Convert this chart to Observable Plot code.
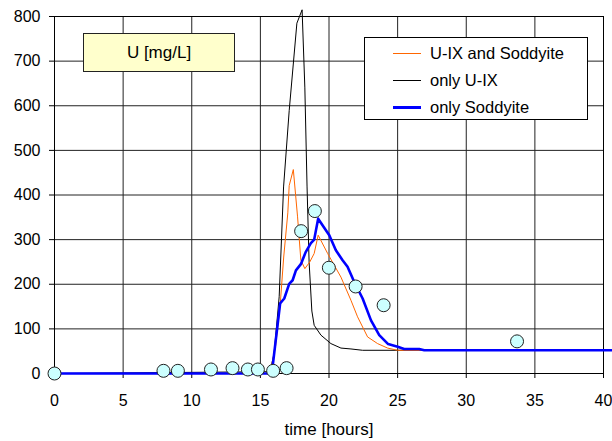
<!DOCTYPE html>
<html>
<head>
<meta charset="utf-8">
<script src="https://cdn.jsdelivr.net/npm/d3@7"></script>
<script src="https://cdn.jsdelivr.net/npm/@observablehq/plot@0.6"></script>
<style>
  body { margin: 0; background: #fff; }
  #wrap { position: relative; width: 612px; height: 441px; font-family: "Liberation Sans", Arial, sans-serif; }
  .titlebox { position: absolute; left: 83px; top: 33px; width: 150px; height: 37px; background: #ffffcc; border: 1px solid #222; font-size: 17px; display: flex; align-items: center; justify-content: center; box-sizing: content-box; }
  .legend { position: absolute; left: 364px; top: 37px; width: 222px; height: 81px; background: #fff; border: 1px solid #000; font-size: 16.5px; }
  .legend .row { position: absolute; left: 0; height: 20px; display: flex; align-items: center; }
  .legend .sw { position: absolute; left: 28px; width: 28px; height: 0; }
  .legend .lbl { position: absolute; left: 65px; white-space: nowrap; }
</style>
</head>
<body>
<div id="wrap"></div>
<script>
// Tick values
const xTicks = [0, 5, 10, 15, 20, 25, 30, 35, 40];
const yTicks = [0, 100, 200, 300, 400, 500, 600, 700, 800];

// Observed data (circles)
const obsTime = [0, 7.94, 8.99, 11.4, 12.97, 14.09, 14.82, 15.93, 16.91, 17.97, 18.97, 19.99, 21.94, 23.98, 33.7];
const obsU    = [0, 6, 6, 9, 12, 9, 9, 6, 12, 319, 364, 237, 195, 153, 72];

// U-IX and Soddyite (orange)
const bothTime = [0, 15.7, 16.1, 16.45, 16.7, 17.0, 17.1, 17.4, 17.71, 17.95, 18.24, 18.6, 18.92, 19.21, 19.9, 20.87, 21.6, 22.08, 22.81, 23.54, 24.27, 25.0, 40];
const bothU    = [0, 0, 60, 157, 261, 360, 421, 457, 351, 254, 235, 250, 269, 310, 269, 216, 164, 127, 82, 67, 57, 52, 52];

// only U-IX (black)
const uixTime = [0, 15.7, 16.0, 16.37, 16.69, 17.1, 17.66, 18.04, 18.24, 18.4, 18.55, 18.75, 18.92, 19.41, 20.14, 20.87, 21.6, 22.45, 40];
const uixU    = [0, 4, 45, 172, 418, 589, 785, 815, 640, 420, 250, 140, 108, 86, 67, 57, 55, 52, 52];

// only Soddyite (blue)
const sodTime = [0, 15.6, 15.89, 16.44, 16.74, 17.1, 17.35, 17.59, 17.95, 18.3, 18.68, 18.92, 19.21, 20.02, 20.5, 20.99, 21.35, 21.84, 22.45, 23.06, 23.66, 24.31, 25.0, 25.48, 26.57, 26.94, 40.7];
const sodU    = [0, 0, 15, 157, 168, 201, 209, 231, 245, 272, 292, 300, 347, 310, 276, 254, 239, 205, 168, 119, 86, 66, 60, 55, 55, 52, 52];

const seriesNames = ["U-IX and Soddyite", "only U-IX", "only Soddyite"];
const seriesColors = ["#ff6600", "#000000", "#0000ff"];
const seriesWidths = [1, 1, 2.6];
const swatchWidths = [1, 1, 3];

const toRows = (t, v) => t.map((d, i) => ({t: d, v: v[i]}));
const obs = toRows(obsTime, obsU);
const both = toRows(bothTime, bothU);
const uix = toRows(uixTime, uixU);
const sod = toRows(sodTime, sodU);

const chart = Plot.plot({
  width: 612,
  height: 441,
  marginLeft: 54,
  marginRight: 9,
  marginTop: 16,
  marginBottom: 68,
  x: {domain: [0, 40]},
  y: {domain: [0, 800]},
  style: {fontFamily: "'Liberation Sans', Arial, sans-serif", fontSize: "16px", color: "#000", background: "#fff"},
  marks: [
    Plot.gridX(xTicks, {stroke: "#222", strokeOpacity: 1, strokeWidth: 1}),
    Plot.gridY(yTicks, {stroke: "#222", strokeOpacity: 1, strokeWidth: 1}),
    Plot.axisX(xTicks, {tickSize: 5, tickPadding: 16, label: null, fontSize: 16, stroke: "#000"}),
    Plot.axisY(yTicks, {tickSize: 5, tickPadding: 9, label: null, fontSize: 16, stroke: "#000"}),
    Plot.frame({stroke: "#000"}),
    Plot.line(uix, {x: "t", y: "v", stroke: seriesColors[1], strokeWidth: seriesWidths[1]}),
    Plot.line(both, {x: "t", y: "v", stroke: seriesColors[0], strokeWidth: seriesWidths[0]}),
    Plot.line(sod, {x: "t", y: "v", stroke: seriesColors[2], strokeWidth: seriesWidths[2]}),
    Plot.dot(obs, {x: "t", y: "v", r: 6.5, fill: "#ccffff", stroke: "#222", strokeWidth: 1}),
    Plot.text(["time [hours]"], {text: d => d, frameAnchor: "bottom", dy: 61, fontSize: 17})
  ]
});

const wrap = document.getElementById("wrap");
wrap.appendChild(chart);

const tb = document.createElement("div");
tb.className = "titlebox";
tb.textContent = "U [mg/L]";
wrap.appendChild(tb);

const lg = document.createElement("div");
lg.className = "legend";
const rowTops = [5, 32, 59];
seriesNames.forEach((name, i) => {
  const row = document.createElement("div");
  row.className = "row";
  row.style.top = rowTops[i] + "px";
  row.style.width = "100%";
  const sw = document.createElement("div");
  sw.className = "sw";
  sw.style.borderTop = swatchWidths[i] + "px solid " + seriesColors[i];
  sw.style.top = (10 - Math.floor(swatchWidths[i] / 2)) + "px";
  const lbl = document.createElement("div");
  lbl.className = "lbl";
  lbl.textContent = name;
  row.appendChild(sw);
  row.appendChild(lbl);
  lg.appendChild(row);
});
wrap.appendChild(lg);
</script>
</body>
</html>
